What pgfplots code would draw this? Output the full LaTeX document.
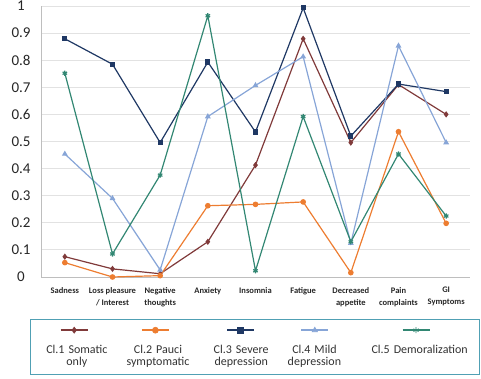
\documentclass[border=0pt]{standalone}
\usepackage{fontspec}
\setmainfont{Carlito}
\usepackage{pgfplots}
\pgfplotsset{compat=1.18}
\definecolor{cA}{RGB}{128,58,58}
\definecolor{cB}{RGB}{237,125,49}
\definecolor{cC}{RGB}{31,56,100}
\definecolor{cD}{RGB}{135,165,215}
\definecolor{cE}{RGB}{50,135,115}
\definecolor{gridc}{RGB}{226,226,226}
\definecolor{axc}{RGB}{190,190,190}
\definecolor{legc}{RGB}{80,160,180}
\pgfplotsset{legimg/.style 2 args={legend image code/.code={%
  \path (0pt,-28pt) (#1,22pt);
  \draw[overlay,mark repeat=2,mark phase=2,##1,line width=2.5pt,mark size=3pt,mark options={solid,line width=0.6pt}] plot coordinates {(#2-13.5pt,14pt) (#2,14pt) (#2+13.5pt,14pt)};}}}
\begin{document}
\begin{tikzpicture}
\useasboundingbox (0,0) rectangle (481pt,379pt);
\begin{axis}[
  at={(41pt,102pt)}, anchor=south west,
  scale only axis, width=429pt, height=271pt,
  xmin=-0.5, xmax=8.5, ymin=0, ymax=1,
  clip=false,
  axis x line*=bottom, axis y line*=left,
  axis line style={draw=axc, line width=0.8pt},
  ymajorgrids, grid style={draw=gridc, line width=0.8pt},
  major tick length=0pt,
  xtick={0,1,2,3,4,5,6,7,8},
  xticklabels={Sadness, Loss pleasure\\/ Interest, Negative\\thoughts, \raisebox{-3pt}{Anxiety}, \raisebox{-3pt}{Insomnia}, \raisebox{-3pt}{Fatigue}, Decreased\\appetite, Pain\\complaints, GI\\Symptoms},
  xticklabel style={align=center, anchor=north, inner sep=0pt, yshift=-10pt, font=\fontsize{8.5}{12}\selectfont\bfseries, text=black!85},
  ytick={0,0.1,0.2,0.3,0.4,0.5,0.6,0.7,0.8,0.9,1},
  yticklabels={0,0.1,0.2,0.3,0.4,0.5,0.6,0.7,0.8,0.9,1},
  yticklabel style={anchor=center, xshift=-20pt, font=\fontsize{15}{15}\selectfont, text=black!85},
  legend columns=5,
  legend style={at={(-0.0256,-0.155)}, anchor=north west, draw=legc, line width=1.2pt, fill=white,
    inner xsep=4pt, inner ysep=2pt,
    cells={anchor=north},
    nodes={inner sep=0pt, text depth=, align=center, font=\fontsize{12}{12.5}\selectfont, text=black!80}},
  every axis plot/.append style={line width=1.2pt, mark size=2.2pt, mark options={solid}},
]
\addplot[color=cA, mark=diamond*, legimg={8pt}{39pt}] coordinates {(0,0.075) (1,0.030) (2,0.012) (3,0.130) (4,0.413) (5,0.879) (6,0.496) (7,0.710) (8,0.600)};
\addlegendentry[text width=66pt]{Cl.1 Somatic\\only}
\addplot[color=cB, mark=*, legimg={11pt}{45pt}] coordinates {(0,0.053) (1,0.000) (2,0.005) (3,0.263) (4,0.268) (5,0.277) (6,0.016) (7,0.536) (8,0.198)};
\addlegendentry[text width=72pt]{Cl.2 Pauci\\symptomatic}
\addplot[color=cC, mark=square*, mark size=2pt, legimg={14pt}{46pt}] coordinates {(0,0.879) (1,0.785) (2,0.496) (3,0.793) (4,0.535) (5,0.993) (6,0.520) (7,0.712) (8,0.684)};
\addlegendentry[text width=64pt]{Cl.3 Severe\\depression}
\addplot[color=cD, mark=triangle*, legimg={6pt}{41pt}] coordinates {(0,0.454) (1,0.290) (2,0.026) (3,0.592) (4,0.707) (5,0.813) (6,0.125) (7,0.853) (8,0.496)};
\addlegendentry[text width=68pt]{Cl.4 Mild\\depression}
\addplot[color=cE, mark=asterisk, mark size=2.6pt, legimg={14pt}{67pt}] coordinates {(0,0.752) (1,0.085) (2,0.376) (3,0.964) (4,0.023) (5,0.592) (6,0.130) (7,0.454) (8,0.225)};
\addlegendentry[text width=112pt]{Cl.5 Demoralization}
\end{axis}
\end{tikzpicture}
\end{document}
